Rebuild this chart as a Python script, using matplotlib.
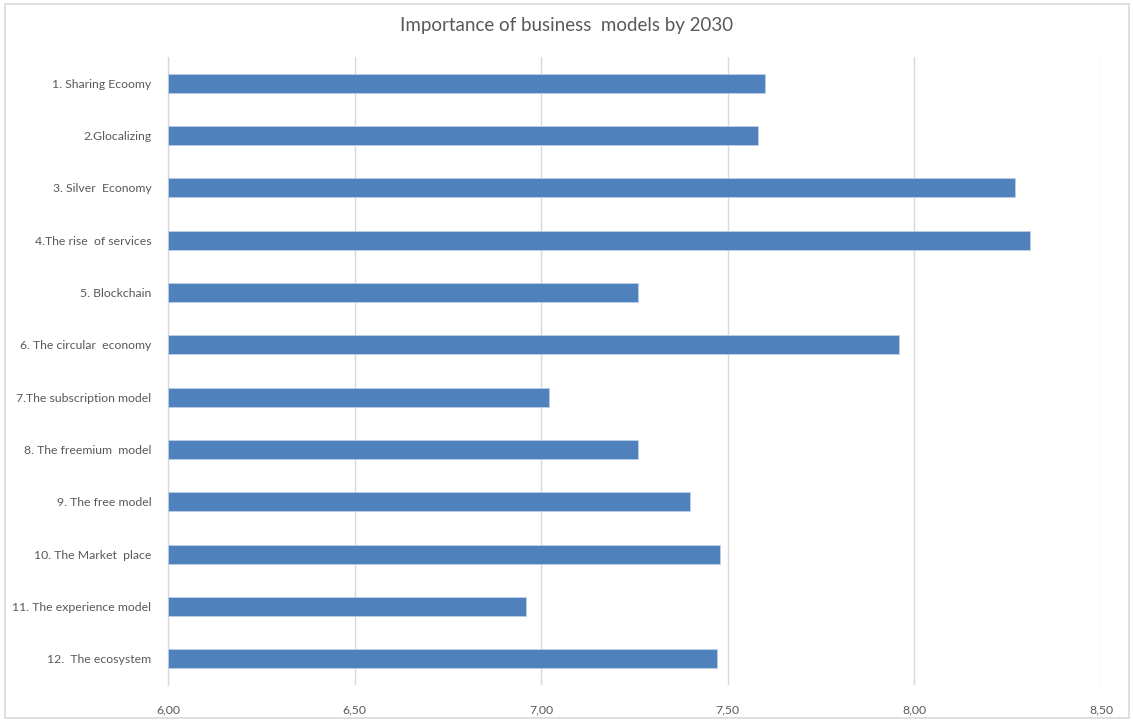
import matplotlib.pyplot as plt
from matplotlib.patches import Rectangle

# Data
categories = [
    "1. Sharing Ecoomy",
    "2.Glocalizing",
    "3. Silver  Economy",
    "4.The rise  of services",
    "5. Blockchain",
    "6. The circular  economy",
    "7.The subscription model",
    "8. The freemium  model",
    "9. The free model",
    "10. The Market  place",
    "11. The experience model",
    "12.  The ecosystem",
]
scores = [7.60, 7.58, 8.27, 8.31, 7.26, 7.96, 7.02, 7.26, 7.40, 7.48, 6.96, 7.47]
xticks = [6.0, 6.5, 7.0, 7.5, 8.0, 8.5]
xtick_labels = ["6,00", "6,50", "7,00", "7,50", "8,00", "8,50"]

plt.rcParams['font.family'] = ['Lato', 'DejaVu Sans']
text_color = '#595959'

fig = plt.figure(figsize=(11.33, 7.2), dpi=100)
ax = fig.add_axes([168 / 1133, 1 - 685 / 720, (1101 - 168) / 1133, (685 - 57) / 720])

y = list(range(len(categories)))
ax.barh(y, [s - 6.0 for s in scores], left=6.0, height=0.365,
        color='#4F81BD', edgecolor='#BDD0E8', linewidth=0.6, zorder=3)

ax.set_xlim(6.0, 8.5)
ax.set_ylim(len(categories) - 0.5, -0.5)
ax.set_yticks(y)
ax.set_yticklabels(categories, fontsize=8.8, color=text_color)
ax.set_xticks(xticks)
ax.set_xticklabels(xtick_labels, fontsize=8.8, color=text_color)
ax.tick_params(axis='y', length=0, pad=12)
ax.tick_params(axis='x', length=0, pad=14)

ax.grid(axis='x', color='#D9D9D9', linewidth=1, zorder=0)
for side in ['top', 'right', 'bottom']:
    ax.spines[side].set_visible(False)
ax.spines['left'].set_color('#D9D9D9')
ax.spines['left'].set_linewidth(1)

fig.text(567 / 1133, 1 - 26 / 720, "Importance of business  models by 2030",
         ha='center', va='center', fontsize=13.5, color=text_color)

# chart area border
fig.patches.append(Rectangle((5 / 1133, 2 / 720), 1124 / 1133, 714 / 720,
                             transform=fig.transFigure, fill=False,
                             edgecolor='#D9D9D9', linewidth=1.2))

fig.savefig('out.png', dpi=100)
